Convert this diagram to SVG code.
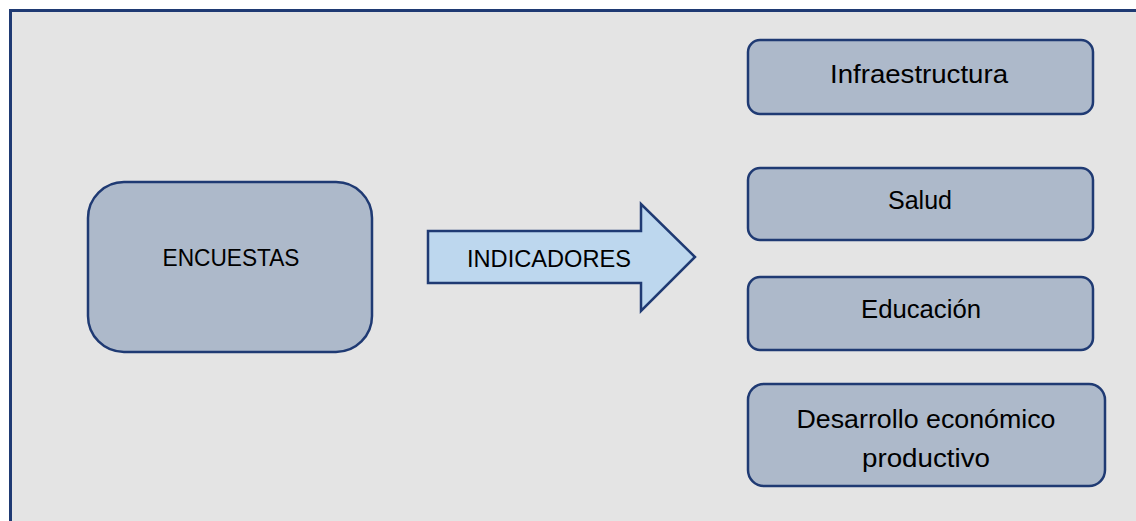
<svg xmlns="http://www.w3.org/2000/svg" width="1136" height="521" viewBox="0 0 1136 521">
<style>
.node{fill:#adb9ca;stroke:#1f3a73;stroke-width:2.5}
.lbl{font-family:"Liberation Sans","Open Sans",sans-serif;font-size:25px;fill:#000;text-anchor:middle}
.caps{font-size:23px}
</style>
<rect width="1136" height="521" fill="#ffffff"/>
<g id="frame"><rect x="10.5" y="10.5" width="1140" height="530" fill="#e4e4e4" stroke="#1f3a73" stroke-width="3"/></g>
<g id="encuestas"><rect class="node" x="88" y="182" width="284" height="170" rx="36"/><text class="lbl caps" x="231" y="266" textLength="137" lengthAdjust="spacingAndGlyphs">ENCUESTAS</text></g>
<g id="connectors"><g id="indicadores"><path d="M428,231 H641 V204 L695,257 L641,311 V283 H428 Z" fill="#bdd7ee" stroke="#1f3a73" stroke-width="2.5" stroke-linejoin="miter"/><text class="lbl caps" x="549" y="267" textLength="164" lengthAdjust="spacingAndGlyphs">INDICADORES</text></g></g>
<g id="infraestructura"><rect class="node" x="748" y="40" width="345" height="74" rx="12"/><text class="lbl" x="919" y="83" textLength="178" lengthAdjust="spacingAndGlyphs">Infraestructura</text></g>
<g id="salud"><rect class="node" x="748" y="168" width="345" height="72" rx="12"/><text class="lbl" x="920" y="209" textLength="64" lengthAdjust="spacingAndGlyphs">Salud</text></g>
<g id="educacion"><rect class="node" x="748" y="277" width="345" height="73" rx="12"/><text class="lbl" x="921" y="318" textLength="120" lengthAdjust="spacingAndGlyphs">Educación</text></g>
<g id="desarrollo"><rect class="node" x="748" y="384" width="357" height="102" rx="16"/><text class="lbl" x="926" y="428" textLength="259" lengthAdjust="spacingAndGlyphs">Desarrollo económico</text><text class="lbl" x="926" y="467" textLength="128" lengthAdjust="spacingAndGlyphs">productivo</text></g>
</svg>
